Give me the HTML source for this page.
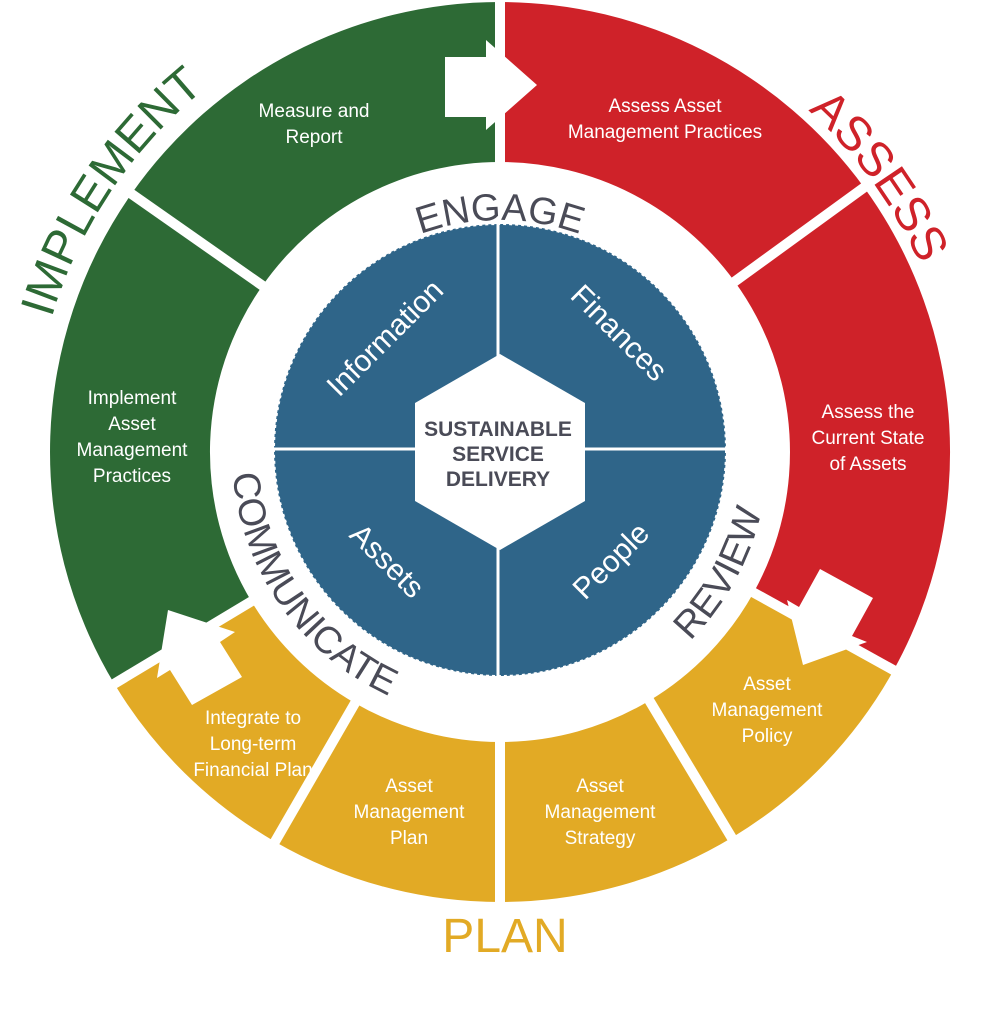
<!DOCTYPE html>
<html><head><meta charset="utf-8"><style>
html,body{margin:0;padding:0;background:#fff;width:1003px;height:1024px;overflow:hidden}
svg{display:block}
.seg{font-family:"Liberation Sans",sans-serif;font-size:19px;fill:#fff;text-anchor:middle}
.big{font-family:"Liberation Sans",sans-serif;font-size:48px}
.ring{font-family:"Liberation Sans",sans-serif;font-size:38px;fill:#4a4b57}
.q{font-family:"Liberation Sans",sans-serif;font-size:30px;fill:#fff;text-anchor:middle}
</style></head><body>
<svg id="s" width="1003" height="1024" viewBox="0 0 1003 1024" xmlns="http://www.w3.org/2000/svg">
<defs>
<path id="pImpl" d="M 32 452 A 468 468 0 0 1 500 -16" fill="none"/>
<path id="pAss" d="M 500 -8 A 460 460 0 0 1 960 452" fill="none"/>
<path id="pEng" d="M 268 452 A 232 232 0 0 1 732 452" fill="none"/>
<path id="pCom" d="M 232 452 A 268 268 0 0 0 768 452" fill="none"/>
</defs>
<g id="sectors"></g>
<g id="divs" stroke="#fff" stroke-width="10"></g>
<polygon fill="#fff" points="445,57 486,57 486,40 537,85 486,130 486,117 445,117"/>
<polygon fill="#fff" points="820,569 873,598 852,636 867,642 803,665 787,600 799,607"/>
<polygon fill="#fff" points="168,610 235,632 220,642 242,677 192,705 170,670 157,678"/>
<circle cx="500" cy="450" r="226" fill="#2f6589" stroke="#fff" stroke-width="2" stroke-dasharray="3 3"/>
<line x1="498" y1="222" x2="498" y2="678" stroke="#fff" stroke-width="3"/>
<line x1="274" y1="449" x2="726" y2="449" stroke="#fff" stroke-width="3"/>
<polygon fill="#fff" points="500,354 585,403 585,501 500,550 415,501 415,403"/>
<g font-family="Liberation Sans,sans-serif" font-weight="bold" font-size="21" fill="#4a4b57" text-anchor="middle">
<text x="498" y="436">SUSTAINABLE</text><text x="498" y="461">SERVICE</text><text x="498" y="486">DELIVERY</text></g>
<text class="q" transform="translate(392,345) rotate(-45)">Information</text>
<text class="q" transform="translate(612,340) rotate(45)">Finances</text>
<text class="q" transform="translate(380,568) rotate(45)">Assets</text>
<text class="q" transform="translate(618,568) rotate(-45)">People</text>
<text class="ring"><textPath href="#pEng" startOffset="50%" text-anchor="middle">ENGAGE</textPath></text>
<text class="ring" font-size="36"><textPath href="#pCom" startOffset="19.5%" text-anchor="middle">COMMUNICATE</textPath></text>
<text class="ring" font-size="36"><textPath href="#pCom" startOffset="84%" text-anchor="middle">REVIEW</textPath></text>
<text class="big" fill="#2d6a35"><textPath href="#pImpl" startOffset="37.5%" text-anchor="middle">IMPLEMENT</textPath></text>
<text class="big" fill="#cf2229" font-size="46"><textPath href="#pAss" startOffset="60%" text-anchor="middle">ASSESS</textPath></text>
<text class="big" fill="#e2aa25" x="505" y="952" text-anchor="middle">PLAN</text>
<text class="seg" x="314" y="117">Measure and</text><text class="seg" x="314" y="143">Report</text>
<text class="seg" x="665" y="112">Assess Asset</text><text class="seg" x="665" y="138">Management Practices</text>
<text class="seg" x="132" y="404">Implement</text><text class="seg" x="132" y="430">Asset</text><text class="seg" x="132" y="456">Management</text><text class="seg" x="132" y="482">Practices</text>
<text class="seg" x="868" y="418">Assess the</text><text class="seg" x="868" y="444">Current State</text><text class="seg" x="868" y="470">of Assets</text>
<text class="seg" x="767" y="690">Asset</text><text class="seg" x="767" y="716">Management</text><text class="seg" x="767" y="742">Policy</text>
<text class="seg" x="600" y="792">Asset</text><text class="seg" x="600" y="818">Management</text><text class="seg" x="600" y="844">Strategy</text>
<text class="seg" x="409" y="792">Asset</text><text class="seg" x="409" y="818">Management</text><text class="seg" x="409" y="844">Plan</text>
<text class="seg" x="253" y="724">Integrate to</text><text class="seg" x="253" y="750">Long-term</text><text class="seg" x="253" y="776">Financial Plan</text>
</svg>
<script>
(function(){
var cx=500,cy=452,R=450,r=290,ns="http://www.w3.org/2000/svg";
function p(a,rad){var t=a*Math.PI/180;return [(cx+rad*Math.cos(t)).toFixed(1),(cy+rad*Math.sin(t)).toFixed(1)];}
var segs=[[149,215,"#2d6a35"],[215,270,"#2d6a35"],[270,324,"#cf2229"],[324,389,"#cf2229"],[29,59,"#e2aa25"],[59,90,"#e2aa25"],[90,120,"#e2aa25"],[120,149,"#e2aa25"]];
var g=document.getElementById("sectors"),d=document.getElementById("divs");
segs.forEach(function(s){var a=p(s[0],R),b=p(s[1],R),c=p(s[1],r),e=p(s[0],r);var lg=(s[1]-s[0])>180?1:0;
var el=document.createElementNS(ns,"path");el.setAttribute("fill",s[2]);
el.setAttribute("d","M"+a+" A"+R+" "+R+" 0 "+lg+" 1 "+b+" L"+c+" A"+r+" "+r+" 0 "+lg+" 0 "+e+"Z");g.appendChild(el);
var x=p(s[0],r-5),y=p(s[0],R+5);var l=document.createElementNS(ns,"line");
l.setAttribute("x1",x[0]);l.setAttribute("y1",x[1]);l.setAttribute("x2",y[0]);l.setAttribute("y2",y[1]);d.appendChild(l);});
})();
</script>
</body></html>
